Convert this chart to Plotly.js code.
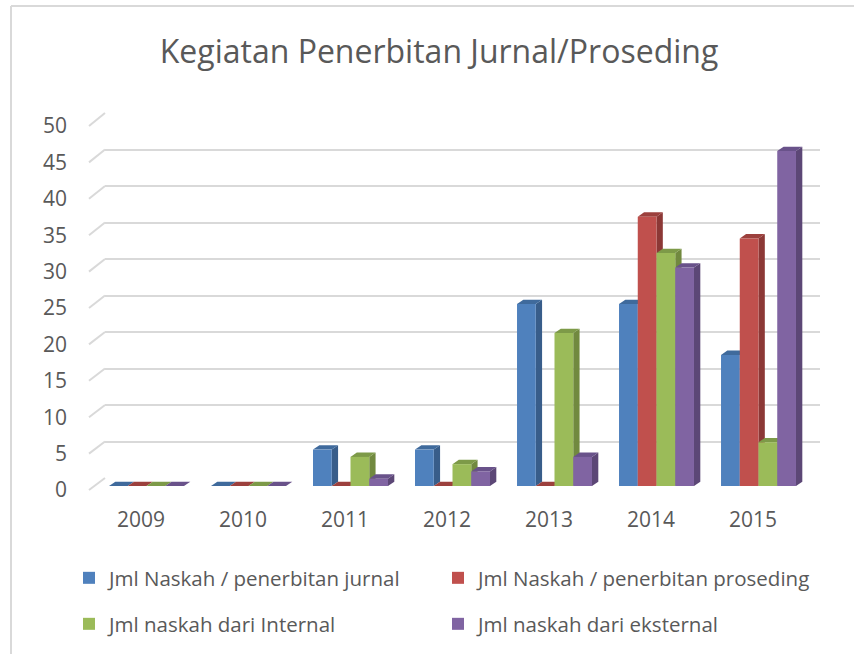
<!DOCTYPE html>
<html>
<head>
<meta charset="utf-8">
<script src="https://cdn.plot.ly/plotly-3.0.1.min.js"></script>
<style>html,body{margin:0;padding:0;background:#fff}#chart{width:854px;height:654px}</style>
</head>
<body>
<div id="chart"></div>
<script>
// ---- data ----
const years = ['2009', '2010', '2011', '2012', '2013', '2014', '2015'];
const seriesNames = [
  'Jml Naskah / penerbitan jurnal',
  'Jml Naskah / penerbitan proseding',
  'Jml naskah dari Internal',
  'Jml naskah dari eksternal'
];
const jurnal    = [0, 0, 5, 5, 25, 25, 18];
const proseding = [0, 0, 0, 0, 0, 37, 34];
const internal  = [0, 0, 4, 3, 21, 32, 6];
const eksternal = [0, 0, 1, 2, 4, 30, 46];
const yTickVals = [0, 5, 10, 15, 20, 25, 30, 35, 40, 45, 50];

// ---- styles ----
const frontColors = ['#4f81bd', '#c0504d', '#9bbb59', '#8064a2'];
const sideColors  = ['#385d8a', '#8c3836', '#71893f', '#5c4776'];
const topColors   = ['#3f6a9c', '#9c403d', '#7d9a48', '#69528a'];
const series = [jurnal, proseding, internal, eksternal];

const W = 854, H = 654;
const fx = p => p / W;
const fy = p => 1 - p / H;
const BARGAP = 0.265;
const DX = 0.062;   // 3D depth (x units)
const DY = 0.6;     // 3D depth (y units)
const txt = '#595959';
const FONT = 'Open Sans';

// pixel layout of the planes (bottom px, top px)
const GRID_PX  = [478, 113];
const LABEL_PX = [490, 126];
const BAR_PX   = [486, 122];
const BAR_X_PX = [95.5, 809.5];
const LABEL_X_SHIFT = 5.5;

const legendIds = ['legend', 'legend2', 'legend3', 'legend4'];
const legendPos = [[69, 578], [438, 578], [69, 624], [438, 624]];

const traces = [];
series.forEach((vals, s) => {
  traces.push({
    type: 'bar', name: seriesNames[s],
    x: years.map((_, i) => i), y: vals,
    xaxis: 'x2', yaxis: 'y2',
    marker: {color: frontColors[s], line: {width: 0}},
    legend: legendIds[s],
    hoverinfo: 'skip'
  });
});
// empty helper traces so the grid and label subplots exist
traces.push({type: 'scatter', x: [], y: [], xaxis: 'x', yaxis: 'y', showlegend: false, hoverinfo: 'skip'});
traces.push({type: 'scatter', x: [], y: [], xaxis: 'x3', yaxis: 'y3', showlegend: false, hoverinfo: 'skip'});
traces.push({type: 'scatter', x: [], y: [], xaxis: 'x4', yaxis: 'y3', showlegend: false, hoverinfo: 'skip'});

const shapes = [];
// 3D faces of the bars
const bw = (1 - BARGAP) / 4;
series.forEach((vals, s) => {
  vals.forEach((v, i) => {
    const xL = i - (1 - BARGAP) / 2 + s * bw;
    const xR = xL + bw;
    shapes.push({
      type: 'path', xref: 'x2', yref: 'y2', layer: 'between',
      path: `M${xR},0 L${xR + DX},${DY} L${xR + DX},${v + DY} L${xR},${v} Z`,
      fillcolor: sideColors[s], line: {width: 0}
    });
    shapes.push({
      type: 'path', xref: 'x2', yref: 'y2', layer: 'between',
      path: `M${xL},${v} L${xR},${v} L${xR + DX},${v + DY} L${xL + DX},${v + DY} Z`,
      fillcolor: topColors[s], line: {width: 0}
    });
  });
});
// diagonal stubs joining the label plane to the back wall gridlines
const planeY = (plane, v) => plane[0] + (plane[1] - plane[0]) * v / 50;
yTickVals.forEach(v => {
  shapes.push({
    type: 'line', xref: 'paper', yref: 'paper',
    x0: fx(89), y0: fy(planeY(LABEL_PX, v)), x1: fx(105), y1: fy(planeY(GRID_PX, v)),
    line: {color: '#d9d9d9', width: 2}
  });
});
// chart frame
shapes.push({type: 'line', xref: 'paper', yref: 'paper', x0: fx(11), y0: fy(6), x1: 1, y1: fy(6), line: {color: '#d9d9d9', width: 2}});
shapes.push({type: 'line', xref: 'paper', yref: 'paper', x0: fx(11), y0: fy(6), x1: fx(11), y1: 0, line: {color: '#d9d9d9', width: 2}});

const layout = {
  width: W, height: H,
  margin: {l: 0, r: 0, t: 0, b: 0},
  paper_bgcolor: '#ffffff', plot_bgcolor: 'rgba(0,0,0,0)',
  font: {family: FONT, color: txt},
  showlegend: true,
  title: {
    text: 'Kegiatan Penerbitan Jurnal/Proseding',
    font: {family: FONT, size: 32, color: txt},
    x: fx(439), xanchor: 'center', y: fy(52), yanchor: 'middle', xref: 'paper', yref: 'container'
  },
  barmode: 'group', bargap: BARGAP, bargroupgap: 0,
  // back wall grid
  xaxis: {domain: [fx(105), fx(820)], range: [0, 1], anchor: 'y', visible: false, fixedrange: true},
  yaxis: {domain: [fy(GRID_PX[0]), fy(GRID_PX[1])], range: [0, 50], anchor: 'x',
          tickvals: yTickVals, showticklabels: false, ticks: '',
          showgrid: true, gridcolor: '#d9d9d9', gridwidth: 2, zeroline: false, showline: false},
  // bars
  xaxis2: {domain: [fx(BAR_X_PX[0]), fx(BAR_X_PX[1])], range: [-0.5, 6.5], anchor: 'y2',
           showticklabels: false, ticks: '', showgrid: false, zeroline: false, showline: false},
  yaxis2: {domain: [fy(BAR_PX[0]), fy(BAR_PX[1])], range: [0, 50], anchor: 'x2',
           showticklabels: false, ticks: '', showgrid: false, zeroline: false, showline: false},
  // y tick labels (front plane)
  xaxis3: {domain: [fx(89), fx(95)], range: [0, 1], anchor: 'y3', visible: false},
  yaxis3: {domain: [fy(LABEL_PX[0]), fy(LABEL_PX[1])], range: [0, 50], anchor: 'x3', side: 'left',
           tickvals: yTickVals, ticks: '', ticklabelstandoff: 21,
           tickfont: {family: FONT, size: 21, color: txt},
           showgrid: false, zeroline: false, showline: false},
  // x tick labels (front plane)
  xaxis4: {domain: [fx(BAR_X_PX[0] - LABEL_X_SHIFT), fx(BAR_X_PX[1] - LABEL_X_SHIFT)], range: [-0.5, 6.5], anchor: 'y3',
           tickvals: years.map((_, i) => i), ticktext: years, ticks: '',
           tickfont: {family: FONT, size: 21, color: txt}, ticklabelstandoff: 15,
           showgrid: false, zeroline: false, showline: false},
  shapes: shapes,
  hovermode: false
};
legendIds.forEach((id, k) => {
  layout[id] = {
    orientation: 'h', xanchor: 'left', yanchor: 'middle',
    x: fx(legendPos[k][0]), y: fy(legendPos[k][1]),
    bgcolor: 'rgba(0,0,0,0)',
    font: {family: FONT, size: 20.5, color: txt}
  };
});

Plotly.newPlot('chart', traces, layout, {staticPlot: true, displayModeBar: false});
</script>
</body>
</html>
